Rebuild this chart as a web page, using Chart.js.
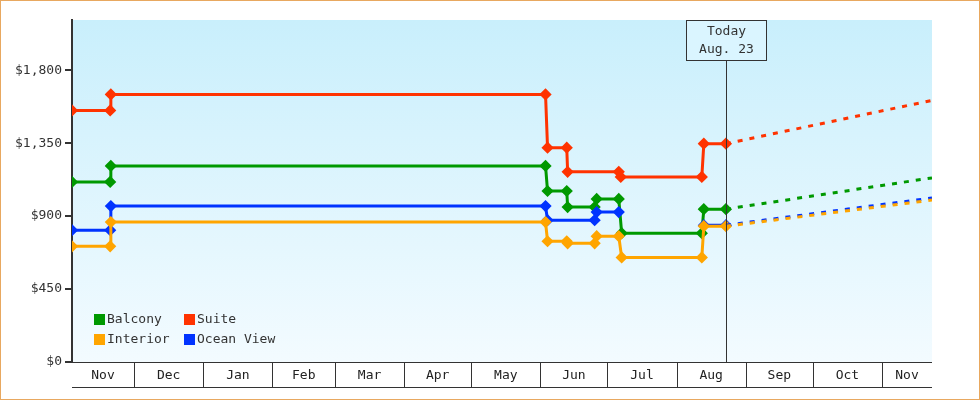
<!DOCTYPE html>
<html><head><meta charset="utf-8">
<script src="https://cdn.jsdelivr.net/npm/chart.js@4"></script>
<style>
html,body{margin:0;padding:0;background:#fff}
#wrap{position:relative;width:978px;height:398px;border:1px solid #e8a860}
</style></head><body>
<div id="wrap"><canvas id="c" width="978" height="398"></canvas></div>
<script>
// x values are days since Nov 1 (start of chart year)
const monthNames = ['Nov','Dec','Jan','Feb','Mar','Apr','May','Jun','Jul','Aug','Sep','Oct','Nov'];
const monthStarts = [0,30,61,92,120,151,181,212,242,273,304,334,365];
const xMin = 2.2, xMax = 387.4, todayX = 295;
const yTicks = [0,450,900,1350,1800];

const suiteX = [2.2,19.3,19.6,214.3,215.2,223.8,224.2,247.1,248.0,284.3,285.2,295.1];
const suiteY = [1552,1552,1651,1651,1322,1322,1173,1173,1142,1142,1347,1347];
const balconyX = [2.2,19.3,19.6,214.3,215.2,223.8,224.2,236.3,237.2,247.1,248.4,284.3,285.2,295.1];
const balconyY = [1111,1111,1210,1210,1055,1055,956,956,1006,1006,795,795,943,943];
const oceanX = [2.2,19.3,19.6,214.3,215.2,236.3,237.2,247.1,null,285.2,295.1];
const oceanY = [813,813,962,962,875,875,925,925,null,844,844];
const interiorX = [2.2,19.3,19.6,214.3,215.2,223.8,224.2,236.3,237.2,247.1,248.4,284.3,285.2,295.1];
const interiorY = [714,714,863,863,745,745,732,732,776,776,645,645,838,838];
const forecastX = [295.1,387.4];
const suiteF = [1347,1614];
const balconyF = [943,1136];
const oceanF = [844,1012];
const interiorF = [838,999];

const C = {Balcony:'#009900',Suite:'#ff3300',Interior:'#ffa500','Ocean View':'#0033ff'};
const pts = (xs,ys)=>xs.map((x,i)=>({x:x,y:x===null?null:ys[i]}));
function solid(label,xs,ys){return {label,data:pts(xs,ys),borderColor:C[label],backgroundColor:C[label],borderWidth:3,pointStyle:'rectRot',pointRadius:4,pointHoverRadius:4,spanGaps:false,tension:0};}
function dashed(label,ys){return {label:label+'_f',data:pts(forecastX,ys),borderColor:C[label],borderWidth:3,borderDash:[5,7],pointRadius:0,tension:0};}

const F = '"DejaVu Sans Mono", monospace';
const plug = {
  id:'deco',
  beforeDraw(ch){
    const {ctx,chartArea:a}=ch;
    const g=ctx.createLinearGradient(0,a.top,0,a.bottom);
    g.addColorStop(0,'#c9effc');g.addColorStop(1,'#f3fbff');
    ctx.save();ctx.fillStyle=g;ctx.fillRect(a.left,a.top,a.right-a.left,a.bottom-a.top);ctx.restore();
  },
  afterDraw(ch){
    const {ctx,chartArea:a,scales:{x}}=ch;
    ctx.save();
    // x axis band
    ctx.strokeStyle='#333';ctx.lineWidth=1;
    ctx.beginPath();ctx.moveTo(a.left,a.bottom+0.5);ctx.lineTo(a.right,a.bottom+0.5);
    ctx.moveTo(a.left,a.bottom+25.5);ctx.lineTo(a.right,a.bottom+25.5);
    monthStarts.forEach(m=>{ if(m>xMin&&m<xMax){const px=Math.round(x.getPixelForValue(m))+0.5;ctx.moveTo(px,a.bottom);ctx.lineTo(px,a.bottom+25);} });
    ctx.stroke();
    ctx.font='13px '+F;ctx.fillStyle='#222';ctx.textAlign='center';ctx.textBaseline='middle';
    monthNames.forEach((n,i)=>{const s=Math.max(monthStarts[i],xMin);const e=Math.min(i<12?monthStarts[i+1]:xMax,xMax);
      if(e>s) ctx.fillText(n,(x.getPixelForValue(s)+x.getPixelForValue(e))/2,a.bottom+14);});
    // today line and box
    const tx=Math.round(x.getPixelForValue(todayX))+0.5;
    ctx.beginPath();ctx.moveTo(tx,a.top+40);ctx.lineTo(tx,a.bottom);ctx.stroke();
    ctx.fillStyle='rgba(220,245,255,0.9)';ctx.fillRect(tx-40,a.top,80,40);
    ctx.strokeRect(tx-40,a.top+0.5,80,40);
    ctx.fillStyle='#333';ctx.fillText('Today',tx,a.top+12);ctx.fillText('Aug. 23',tx,a.top+30);
    // legend
    const items=[['Balcony',0,0],['Suite',1,0],['Interior',0,1],['Ocean View',1,1]];
    ctx.textAlign='left';
    items.forEach(([l,c,r])=>{const lx=a.left+22+c*90, ly=a.top+294+r*20;
      ctx.fillStyle=C[l];ctx.fillRect(lx,ly,11,11);ctx.fillStyle='#333';ctx.fillText(l,lx+13,ly+6);});
    ctx.restore();
  }
};

new Chart(document.getElementById('c'),{
  type:'line',
  data:{datasets:[
    dashed('Suite',suiteF),dashed('Balcony',balconyF),dashed('Interior',interiorF),dashed('Ocean View',oceanF),
    solid('Interior',interiorX,interiorY),solid('Ocean View',oceanX,oceanY),solid('Balcony',balconyX,balconyY),solid('Suite',suiteX,suiteY)
  ]},
  options:{
    responsive:false,animation:false,
    layout:{padding:{top:19,right:47,bottom:37,left:0}},
    plugins:{legend:{display:false},tooltip:{enabled:false}},
    scales:{
      x:{type:'linear',min:xMin,max:xMax,display:false},
      y:{min:0,max:2110,afterBuildTicks(s){s.ticks=yTicks.map(v=>({value:v}));},
        ticks:{font:{family:F,size:13},color:'#333',padding:3,callback:v=>'$'+v.toLocaleString('en-US')},
        grid:{drawOnChartArea:false,color:'#333',lineWidth:2,tickLength:7},
        border:{color:'#333',width:2},afterFit(s){s.width=71;}}
    }
  },
  plugins:[plug]
});
</script></body></html>
